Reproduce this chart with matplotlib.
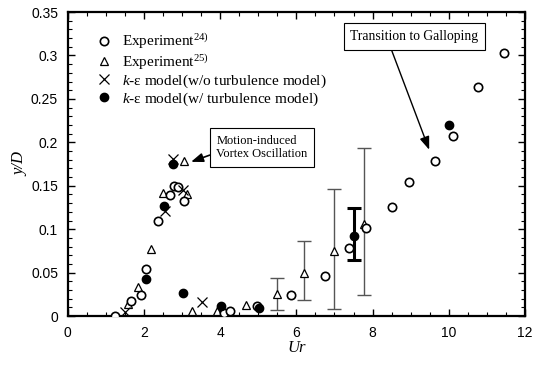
# Vortex-induced oscillation and galloping amplitude vs reduced velocity.

import numpy as np
import matplotlib.pyplot as plt
from matplotlib.lines import Line2D
from matplotlib.ticker import MultipleLocator

# Experiment 24)
exp24_ur = [1.25, 1.67, 1.93, 2.05, 2.38, 2.69, 2.80, 2.90, 3.05, 4.10, 4.25, 4.96,
            5.87, 6.76, 7.39, 7.83, 8.51, 8.96, 9.63, 10.10, 10.78, 11.44]
exp24_y = [0.000, 0.017, 0.024, 0.054, 0.109, 0.139, 0.150, 0.149, 0.132, 0.003, 0.006, 0.012,
           0.024, 0.046, 0.078, 0.101, 0.126, 0.154, 0.178, 0.207, 0.264, 0.303]

# Experiment 25)
exp25_ur = [1.57, 1.83, 2.18, 2.50, 3.05, 3.13, 3.27, 3.92, 4.67]
exp25_y = [0.014, 0.034, 0.077, 0.142, 0.178, 0.141, 0.006, 0.006, 0.013]
# Experiment 25) with scatter range
exp25e_ur = [5.48, 6.21, 7.00, 7.78]
exp25e_y = [0.026, 0.050, 0.075, 0.106]
exp25e_lo = [0.007, 0.019, 0.008, 0.024]
exp25e_hi = [0.044, 0.087, 0.146, 0.194]

# k-eps model without turbulence model
kw_o_ur = [1.51, 2.54, 2.77, 3.02, 3.53]
kw_o_y = [0.005, 0.121, 0.181, 0.145, 0.016]

# k-eps model with turbulence model
kw_ur = [2.04, 2.53, 2.77, 3.03, 4.02, 5.01, 10.0]
kw_y = [0.043, 0.127, 0.175, 0.027, 0.012, 0.009, 0.220]
kw_e_ur = 7.52
kw_e_y = 0.092
kw_e_lo = 0.064
kw_e_hi = 0.124

serif = 'Liberation Serif'
plt.rcParams['font.family'] = 'Liberation Sans'
plt.rcParams['mathtext.fontset'] = 'custom'
plt.rcParams['mathtext.rm'] = serif
plt.rcParams['mathtext.it'] = serif + ':italic'

fig = plt.figure(figsize=(5.34, 3.65), dpi=100)
ax = fig.add_axes([0.127, 0.134, 0.856, 0.833])

ms = 6.0
open_kw = dict(marker='o', ms=ms, mfc='white', mec='black', mew=1.2, ls='none')
tri_kw = dict(marker='^', ms=ms, mfc='white', mec='black', mew=0.9, ls='none')
x_kw = dict(marker='x', ms=ms + 1, color='black', mew=0.9, ls='none')
fill_kw = dict(marker='o', ms=ms, mfc='black', mec='black', ls='none')

# scatter ranges
e25 = np.array(exp25e_y)
ax.errorbar(exp25e_ur, exp25e_y,
            yerr=[e25 - np.array(exp25e_lo), np.array(exp25e_hi) - e25],
            fmt='none', ecolor='#555555', elinewidth=1.0, capsize=5, capthick=1.0, zorder=2)
ax.errorbar([kw_e_ur], [kw_e_y], yerr=[[kw_e_y - kw_e_lo], [kw_e_hi - kw_e_y]],
            fmt='none', ecolor='black', elinewidth=2.2, capsize=5, capthick=2.2, zorder=2)

ax.plot(exp25_ur + exp25e_ur, exp25_y + exp25e_y, zorder=3, **tri_kw)
ax.plot(exp24_ur, exp24_y, zorder=4, **open_kw)
ax.plot(kw_o_ur, kw_o_y, zorder=5, **x_kw)
ax.plot(kw_ur + [kw_e_ur], kw_y + [kw_e_y], zorder=6, **fill_kw)

ax.set_xlim(0, 12)
ax.set_ylim(0, 0.35)
ax.xaxis.set_major_locator(MultipleLocator(2))
ax.xaxis.set_minor_locator(MultipleLocator(0.5))
ax.yaxis.set_minor_locator(MultipleLocator(0.01))
ax.set_yticks([0, 0.05, 0.1, 0.15, 0.2, 0.25, 0.3, 0.35])
ax.set_yticklabels(['0', '0.05', '0.1', '0.15', '0.2', '0.25', '0.3', '0.35'])
ax.tick_params(which='both', direction='in', top=True, right=True, labelsize=10)
ax.tick_params(which='major', length=5, width=1.0)
ax.tick_params(axis='x', which='major', pad=7)
ax.tick_params(axis='y', which='major', pad=7)
ax.tick_params(which='minor', length=3, width=0.8)
for s in ax.spines.values():
    s.set_linewidth(1.6)

ax.set_xlabel('Ur', family=serif, style='italic', fontsize=12, labelpad=0)
ax.set_ylabel('y/D', family=serif, style='italic', fontsize=12, labelpad=2)

handles = [Line2D([], [], **open_kw), Line2D([], [], **tri_kw),
           Line2D([], [], **x_kw), Line2D([], [], **fill_kw)]
labels = ['Experiment$^{24)}$', 'Experiment$^{25)}$',
          r'$k$-ε model(w/o turbulence model)', r'$k$-ε model(w/ turbulence model)']
ax.legend(handles, labels, loc='upper left', bbox_to_anchor=(0.045, 0.955),
          frameon=False, prop={'family': serif, 'size': 11},
          labelspacing=0.05, handletextpad=0.6, handlelength=1.2, borderaxespad=0)

bbox = dict(boxstyle='square,pad=0.5', fc='white', ec='black', lw=0.8)
arrow = dict(arrowstyle='-|>,head_length=0.8,head_width=0.3', color='black', lw=1.2,
             shrinkA=0, shrinkB=1, relpos=(0, 0.3))
ax.annotate('Motion-induced\nVortex Oscillation', xy=(3.2, 0.177), xytext=(3.9, 0.194),
            family=serif, fontsize=9, va='center', ha='left', bbox=bbox, arrowprops=arrow)
ax.annotate('Transition to Galloping', xy=(9.5, 0.19), xytext=(9.1, 0.322),
            family=serif, fontsize=9.8, va='center', ha='center', bbox=bbox,
            arrowprops=dict(arrow, lw=1.0, relpos=(0.3, 0)))

fig.savefig('out.png', dpi=100)
